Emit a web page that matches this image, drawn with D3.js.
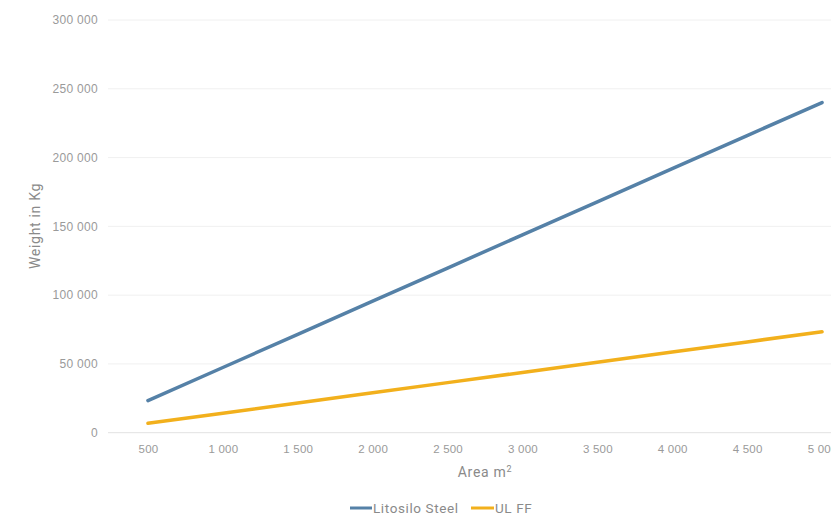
<!DOCTYPE html>
<html><head><meta charset="utf-8">
<script src="https://cdn.jsdelivr.net/npm/d3@7"></script>
<style>
html,body{margin:0;padding:0;background:#fff;}
svg{display:block;font-family:Roboto, "DejaVu Sans", sans-serif;}
</style></head>
<body><svg id="c" width="831" height="516"></svg>
<script>
const categories = [500,1000,1500,2000,2500,3000,3500,4000,4500,5000];
const steelValues = [23300,47400,71500,95600,119700,143800,167800,191900,216000,240000];
const ulffValues = [6800,14200,21600,29000,36400,43800,51200,58600,66000,73400];
const yTicks = [0,50000,100000,150000,200000,250000,300000];
const seriesNames = ["Litosilo Steel","UL FF"];
const seriesColors = ["#5581a7","#f2b01c"];

const svg = d3.select("#c");
const fmt = v => d3.format(",")(v).replace(/,/g," ");
const x = d3.scalePoint().domain(categories).range([110.5,859.5]).padding(0.5);
const y = d3.scaleLinear().domain([0,300000]).range([432.7,20]);
const gridLeft = 108, gridRight = 831;

// gridlines
svg.append("g").selectAll("line").data(yTicks).join("line")
  .attr("x1",gridLeft).attr("x2",gridRight)
  .attr("y1",d=>y(d)).attr("y2",d=>y(d))
  .attr("stroke",d=>d===0?"#e2e2e2":"#f0f0f0").attr("stroke-width",1);

// y axis labels
const yAxis = d3.axisLeft(y).tickValues(yTicks).tickFormat(fmt).tickSize(0).tickPadding(0);
const gy = svg.append("g").attr("transform","translate(98,0)").call(yAxis);
gy.select(".domain").remove();
gy.selectAll("text").attr("fill","#9a9a9a").style("font-size","12px").style("letter-spacing","0.3px");

// x axis labels
const xAxis = d3.axisBottom(x).tickFormat(fmt).tickSize(0).tickPadding(0);
const gx = svg.append("g").attr("transform","translate(0,445)").call(xAxis);
gx.select(".domain").remove();
gx.selectAll("text").attr("fill","#9a9a9a").style("font-size","11.5px").style("letter-spacing","0.2px");

// axis titles
svg.append("text").attr("transform","translate(40,226) rotate(-90)")
  .attr("text-anchor","middle").attr("fill","#8a8a8a").style("font-size","14px")
  .style("letter-spacing","0.7px").text("Weight in Kg");
const at = svg.append("text").attr("x",485).attr("y",477).attr("text-anchor","middle")
  .attr("fill","#8a8a8a").style("font-size","14px").style("letter-spacing","0.7px");
at.append("tspan").text("Area m");
at.append("tspan").attr("dy",-5).style("font-size","9px").text("2");

// lines
const line = d3.line().x((d,i)=>x(categories[i])).y(d=>y(d));
[steelValues, ulffValues].forEach((vals,i)=>{
  svg.append("path").datum(vals).attr("d",line).attr("fill","none")
    .attr("stroke",seriesColors[i]).attr("stroke-width",3.5).attr("stroke-linecap","round");
});

// legend
const legendItems = [{x:350, w:22, tx:373},{x:471, w:23, tx:495}];
seriesNames.forEach((n,i)=>{
  const L = legendItems[i];
  svg.append("line").attr("x1",L.x).attr("x2",L.x+L.w).attr("y1",508).attr("y2",508)
    .attr("stroke",seriesColors[i]).attr("stroke-width",3);
  svg.append("text").attr("x",L.tx).attr("y",513).attr("fill","#8a8a8a")
    .style("font-size","13.5px").style("letter-spacing","0.6px").text(n);
});
</script></body></html>
